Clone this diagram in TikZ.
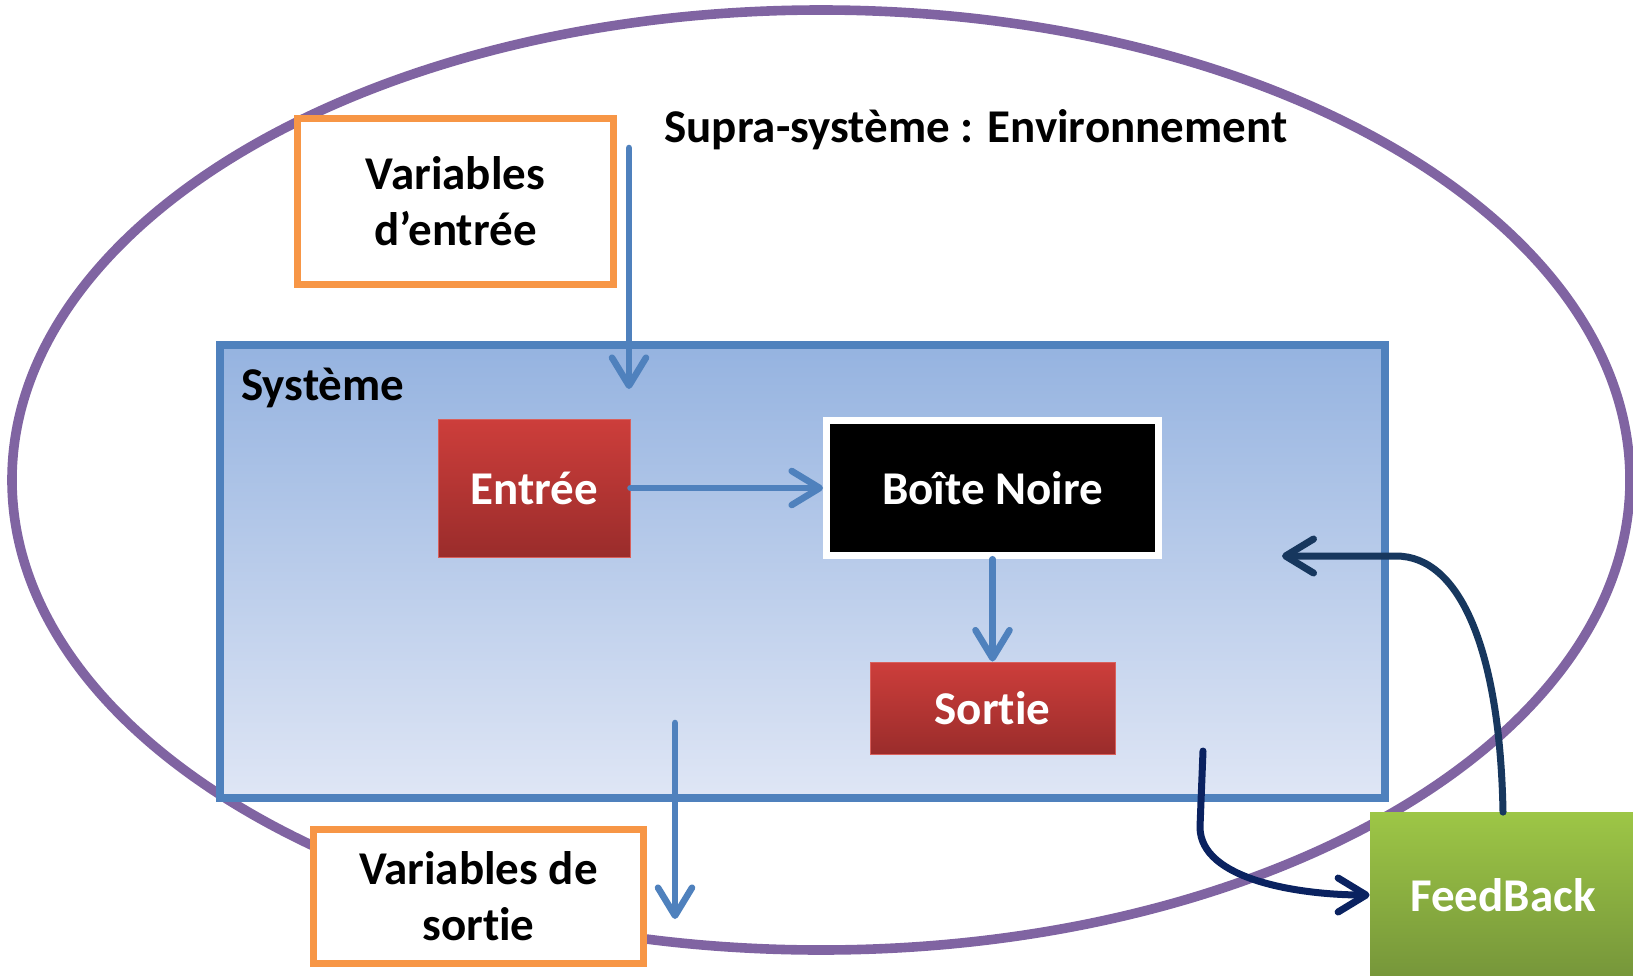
\documentclass[tikz,border=0pt]{standalone}
\usepackage{fontspec}
\setmainfont{Carlito}[Ligatures=CommonOff]
\usetikzlibrary{arrows.meta}
\definecolor{envpurple}{HTML}{8064A2}
\definecolor{varorange}{HTML}{F79646}
\definecolor{sysblue}{HTML}{4F81BD}
\definecolor{systop}{HTML}{95B3E0}
\definecolor{sysbottom}{HTML}{DFE6F5}
\definecolor{redtop}{HTML}{CD3E3B}
\definecolor{redbottom}{HTML}{9A2C2B}
\definecolor{redline}{HTML}{D9605C}
\definecolor{greentop}{HTML}{9DC646}
\definecolor{greenbottom}{HTML}{76963A}
\definecolor{navyA}{HTML}{0A2260}
\definecolor{navyB}{HTML}{17375E}
\tikzset{
  txt/.style={font=\fontsize{23.5}{28}\selectfont\bfseries, align=center},
  label/.style={txt, inner sep=0pt, anchor=base west},
  varbox/.style={txt, draw=varorange, line width=3.2pt, fill=white, inner sep=0pt},
  redbox/.style={txt, text=white, draw=redline, line width=0.5pt, top color=redtop, bottom color=redbottom, inner sep=0pt},
  blackbox/.style={txt, text=white, draw=white, fill=black, line width=3.5pt, inner sep=0pt},
  greenbox/.style={txt, text=white, top color=greentop, bottom color=greenbottom, inner sep=0pt},
  sysbox/.style={draw=sysblue, line width=3.9pt, top color=systop, bottom color=sysbottom, inner sep=0pt},
  barb/.style={-{Straight Barb[length=14pt,width=17pt,round]}, line cap=round},
  bluearrow/.style={barb, draw=sysblue, line width=3.3pt},
  navyarrow/.style={barb, line width=3.5pt}
}
\begin{document}
\begin{tikzpicture}[x=0.5pt,y=-0.5pt]
\useasboundingbox (0,0) rectangle (1633,975);
% surrounding environment
\draw[envpurple, line width=4.8pt] (821,480) ellipse [x radius=404.5pt, y radius=235pt];
\node[label] (supra) at (664,142) {Supra-système : Environnement};
% the system
\node[sysbox, minimum width=582.5pt, minimum height=226.5pt] (sys) at (802.5,571.5) {};
\node[label] (syslabel) at (241,400) {Système};
\node[redbox, minimum width=96pt, minimum height=69pt] (entree) at (534,488) {Entrée};
\node[blackbox, minimum width=166pt, minimum height=67.75pt] (noire) at (992.5,488) {Boîte Noire};
\node[redbox, minimum width=122.5pt, minimum height=46pt] (sortie) at (992.5,708) {Sortie};
% environment variables
\node[varbox, minimum width=158pt, minimum height=83pt] (varin) at (455.5,201.5) {Variables\\d’entrée};
\node[varbox, minimum width=165pt, minimum height=67pt] (varout) at (478.5,896.5) {Variables de\\sortie};
\node[greenbox, minimum width=133pt, minimum height=82.5pt] (fb) at (1503,895) {FeedBack};
% free arrow ends
\coordinate (inA) at (629,148);
\coordinate (inB) at (629,389);
\coordinate (outA) at (675,723);
\coordinate (outB) at (675,919);
\coordinate (fbA) at (1203,751);
\coordinate (fbB) at (1282,556);
% flows
\draw[bluearrow] (inA) -- (inB);
\draw[bluearrow] (entree.east) -- (noire.west);
\draw[bluearrow] (noire.south) -- (sortie.north);
\draw[bluearrow] (outA) -- (outB);
\draw[navyarrow, draw=navyA] (fbA) -- (1200,827) .. controls (1200,880) and (1300,895) .. (fb.west);
\draw[navyarrow, draw=navyB] (fb.north) .. controls (1500,650) and (1460,556) .. (1396,556) -- (fbB);
\end{tikzpicture}
\end{document}
